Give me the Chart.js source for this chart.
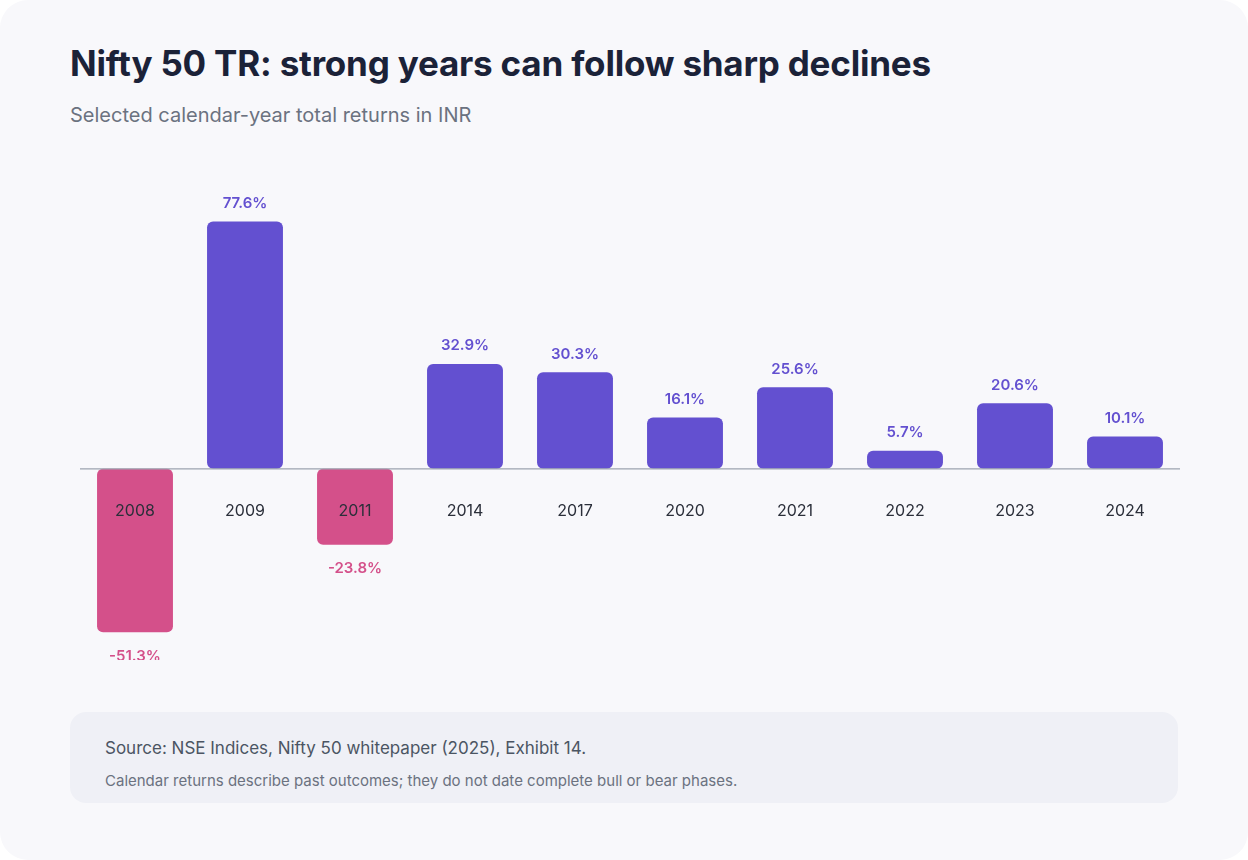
<!DOCTYPE html>
<html><head><meta charset="utf-8">
<script src="https://cdn.jsdelivr.net/npm/chart.js@4"></script>
<style>
html,body{margin:0;padding:0;background:#fff;width:1248px;height:860px;overflow:hidden;font-family:Inter,"Noto Sans",sans-serif}
#card{position:absolute;left:0;top:0;width:1248px;height:860px;background:#f8f8fb;border-radius:28px}
h1{position:absolute;left:70px;top:42px;margin:0;font-size:35px;font-weight:700;color:#1b2238;letter-spacing:-0.2px}
#sub{position:absolute;left:70px;top:103px;font-size:20px;color:#6b7280}
#wrap{position:absolute;left:80px;top:182px;width:1100px;height:478px}
#foot{position:absolute;left:70px;top:712px;width:1108px;height:91px;background:#eff0f6;border-radius:16px}
#s1{position:absolute;left:35px;top:26px;font-size:17px;color:#4b5563}
#s2{position:absolute;left:35px;top:59px;font-size:15px;color:#6b7280}
</style></head><body>
<div id="card">
<h1>Nifty 50 TR: strong years can follow sharp declines</h1>
<div id="sub">Selected calendar-year total returns in INR</div>
<div id="wrap"><canvas id="c"></canvas></div>
<div id="foot"><div id="s1">Source: NSE Indices, Nifty 50 whitepaper (2025), Exhibit 14.</div>
<div id="s2">Calendar returns describe past outcomes; they do not date complete bull or bear phases.</div></div>
</div>
<script>
const years=["2008","2009","2011","2014","2017","2020","2021","2022","2023","2024"];
const returns=[-51.3,77.6,-23.8,32.9,30.3,16.1,25.6,5.7,20.6,10.1];
const POS="#6350d0",NEG="#d4508a";
const labels={id:"labels",afterDatasetsDraw(ch){
 const ctx=ch.ctx,y=ch.scales.y,x=ch.scales.x,z=y.getPixelForValue(0);
 ctx.save();ctx.strokeStyle="#9ca3af";ctx.lineWidth=1.2;ctx.beginPath();ctx.moveTo(ch.chartArea.left,z);ctx.lineTo(ch.chartArea.right,z);ctx.stroke();
 ch.getDatasetMeta(0).data.forEach((b,i)=>{
  const v=returns[i];ctx.textAlign="center";
  ctx.font="600 15px Inter, sans-serif";ctx.fillStyle=v<0?NEG:POS;
  ctx.textBaseline="middle";
  ctx.fillText(v.toFixed(1)+"%",b.x,v<0?b.y+24:b.y-18);
  ctx.font="16px Inter, sans-serif";ctx.fillStyle="#2b2f3a";
  ctx.fillText(years[i],b.x,z+42);
 });ctx.restore();}};
new Chart(document.getElementById("c"),{type:"bar",
 data:{labels:years,datasets:[{data:returns,backgroundColor:returns.map(v=>v<0?NEG:POS),borderRadius:6,borderSkipped:false,categoryPercentage:1,barPercentage:0.69}]},
 options:{responsive:true,maintainAspectRatio:false,animation:false,layout:{padding:0},
  plugins:{legend:{display:false},tooltip:{enabled:false}},
  scales:{x:{display:false},y:{display:false,min:-60,max:90}}},
 plugins:[labels]});
</script></body></html>
